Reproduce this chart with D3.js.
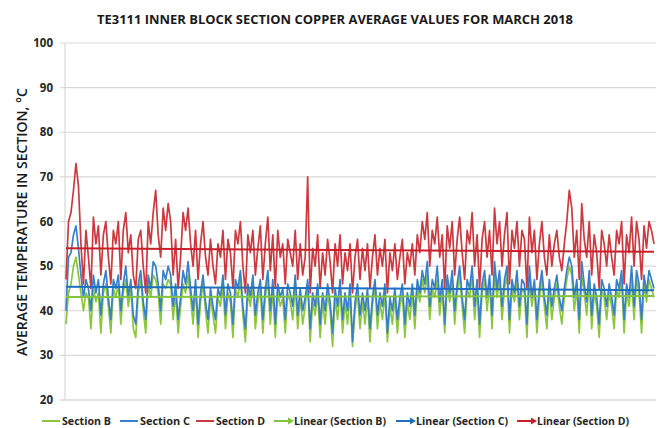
<!DOCTYPE html>
<html><head><meta charset="utf-8">
<script src="https://cdn.jsdelivr.net/npm/d3@7"></script>
<style>body{margin:0;background:#fff}svg{display:block}</style>
</head><body>
<svg id="c" width="664" height="428"></svg>
<script>
const title = "TE3111 INNER BLOCK SECTION COPPER AVERAGE VALUES FOR MARCH 2018";
const yLabel = "AVERAGE TEMPERATURE IN SECTION, °C";
const yTicks = [20,30,40,50,60,70,80,90,100];
const seriesNames = ["Section B","Section C","Section D"];
const trendNames = ["Linear (Section B)","Linear (Section C)","Linear (Section D)"];

const sectionB = [
37,44,46,50,52,48,44,40,44,43,36,45,42,44,35,44,46,41,35,45,
43,46,37,44,47,41,45,36,34,44,47,40,35,46,43,48,47,44,37,46,
45,47,46,38,44,35,41,46,44,48,43,37,45,34,42,46,40,35,43,39,
35,43,41,46,36,44,42,34,45,43,47,39,33,44,41,46,36,42,45,35,
43,47,37,45,34,44,41,43,35,44,42,38,46,36,43,37,41,46,33,42,
39,44,34,42,37,44,40,32,43,38,45,35,42,37,44,32,40,44,36,42,
37,43,33,41,46,36,42,38,44,33,41,37,43,35,41,44,34,42,38,44,
36,45,42,47,44,48,38,45,43,47,39,45,35,46,42,47,37,44,48,41,
35,45,43,48,38,45,34,44,47,40,46,36,48,43,47,38,45,48,35,45,
42,47,38,45,44,34,47,41,45,35,43,47,41,36,45,38,43,46,41,37,
43,47,50,48,40,45,35,48,44,39,47,36,44,41,34,45,43,38,44,41,
36,45,43,47,35,44,41,47,38,47,44,35,46,42,47,45,43];
const sectionC = [
40,52,53,57,59,54,48,43,47,45,40,48,44,47,39,46,49,43,38,47,
45,48,40,46,50,43,47,39,37,46,49,42,38,48,45,51,50,46,40,49,
47,50,48,41,46,38,43,49,46,51,45,40,47,37,44,48,42,38,45,41,
38,45,43,48,39,46,44,37,47,45,49,41,36,46,43,48,39,44,47,38,
45,49,40,47,37,46,43,45,38,46,44,41,48,39,45,40,43,47,36,44,
41,46,37,44,40,46,42,35,45,41,47,38,44,40,46,33,42,46,39,44,
40,45,36,43,47,39,44,41,46,35,43,40,45,38,43,46,37,44,41,46,
39,47,44,49,46,51,41,47,45,50,42,47,37,48,44,49,40,46,50,43,
38,47,45,50,41,47,37,46,49,43,48,39,51,45,49,41,47,50,38,47,
44,49,41,47,46,37,50,43,47,38,45,49,43,39,47,41,45,48,43,40,
45,49,52,50,43,47,38,51,46,42,49,39,46,43,37,47,45,41,46,43,
39,47,45,49,38,46,43,50,41,49,46,38,48,44,49,47,45];
const sectionD = [
47,60,62,67,73,68,55,46,58,52,45,61,55,59,48,57,60,52,46,58,
55,60,47,58,62,53,57,48,45,56,58,50,44,60,55,62,67,57,52,63,
58,64,60,48,56,45,52,62,58,63,55,50,58,47,55,60,52,48,56,50,
46,55,52,58,47,56,53,45,58,55,60,50,44,57,53,58,48,54,59,47,
55,61,49,57,45,58,52,55,46,56,53,50,58,47,55,48,52,70,44,54,
50,57,45,53,48,56,51,44,55,50,57,46,53,49,55,44,52,56,47,54,
49,55,45,52,57,48,54,50,56,44,53,49,55,47,52,56,46,53,50,55,
48,57,53,60,56,62,50,58,55,61,52,57,45,59,54,60,48,56,61,53,
47,58,55,62,50,57,45,56,60,52,58,48,63,55,60,50,57,62,46,58,
54,60,50,58,56,45,61,53,58,47,55,60,52,48,57,50,55,58,52,49,
55,60,67,63,52,58,47,64,56,52,60,48,57,53,45,58,55,50,57,52,
48,58,55,60,46,57,53,61,50,60,56,47,59,54,60,58,55];
// linear trend values at first and last point
const trendB = [43.1, 43.3];
const trendC = [45.4, 44.6];
const trendD = [54.0, 53.2];

const colors = ["#8cc63f","#3a80c8","#cc3a40"];
const trendColors = ["#82c341","#1f6fc0","#c8202a"];

const svg = d3.select("#c");
const pLeft = 65, pRight = 656, pTop = 43, pBottom = 400;
const n = sectionB.length;
const x = d3.scaleLinear().domain([0, n-1]).range([pLeft+1, pRight-2]);
const y = d3.scaleLinear().domain([20,100]).range([pBottom, pTop]);

// gridlines
svg.append("g").selectAll("line").data(yTicks).join("line")
  .attr("x1", pLeft-5).attr("x2", pRight).attr("y1", d=>y(d)).attr("y2", d=>y(d))
  .attr("stroke", d=> d===20 ? "#c8c8c8" : "#d9d9d9").attr("stroke-width", 1.2);
svg.append("line").attr("x1", pLeft).attr("x2", pLeft).attr("y1", pTop).attr("y2", pBottom)
  .attr("stroke","#d9d9d9").attr("stroke-width",1.2);

// y tick labels
svg.append("g").selectAll("text").data(yTicks).join("text")
  .attr("x", 53).attr("y", d=>y(d)+4).attr("text-anchor","end")
  .attr("font-family","'Open Sans', sans-serif").attr("font-weight","bold")
  .attr("font-size", 11.5).attr("fill","#262626").text(d=>d);

// title
svg.append("text").attr("x", 335).attr("y", 24).attr("text-anchor","middle")
  .attr("font-family","'Open Sans', sans-serif").attr("font-weight","bold")
  .attr("font-size", 13).attr("fill","#1a1a1a")
  .attr("textLength", 476).attr("lengthAdjust","spacingAndGlyphs").text(title);

// y label
svg.append("text").attr("transform","translate(27,222) rotate(-90)")
  .attr("text-anchor","middle").attr("font-family","'Open Sans', sans-serif")
  .attr("font-weight","600").attr("font-size", 14.5).attr("fill","#1a1a1a")
  .attr("textLength", 268).attr("lengthAdjust","spacingAndGlyphs").text(yLabel);

const line = d3.line().x((d,i)=>x(i)).y(d=>y(d));
[sectionB, sectionC, sectionD].forEach((s,k)=>{
  svg.append("path").datum(s).attr("d", line).attr("fill","none")
    .attr("stroke", colors[k]).attr("stroke-width", 1.7).attr("stroke-linejoin","round");
});
[trendB, trendC, trendD].forEach((t,k)=>{
  svg.append("line").attr("x1", x(0)).attr("x2", x(n-1))
    .attr("y1", y(t[0])).attr("y2", y(t[1]))
    .attr("stroke", trendColors[k]).attr("stroke-width", 2);
});

// legend
const legItems = [
  {name: seriesNames[0], c: colors[0], arrow:false, x: 42},
  {name: seriesNames[1], c: colors[1], arrow:false, x: 120},
  {name: seriesNames[2], c: colors[2], arrow:false, x: 196},
  {name: trendNames[0], c: trendColors[0], arrow:true, x: 274},
  {name: trendNames[1], c: trendColors[1], arrow:true, x: 396},
  {name: trendNames[2], c: trendColors[2], arrow:true, x: 517}
];
const widths = [49,50,49,92,92,92];
const ly = 421;
const lg = svg.append("g");
legItems.forEach((it,i)=>{
  lg.append("line").attr("x1", it.x).attr("x2", it.x+(it.arrow?15:18)).attr("y1", ly).attr("y2", ly)
    .attr("stroke", it.c).attr("stroke-width", 2);
  if (it.arrow) {
    lg.append("path").attr("d", `M${it.x+14},${ly-3.5}L${it.x+20},${ly}L${it.x+14},${ly+3.5}Z`).attr("fill", it.c);
  }
  lg.append("text").attr("x", it.x+20).attr("y", ly+4).attr("font-family","'Open Sans', sans-serif")
    .attr("font-weight","bold").attr("font-size", 11).attr("fill","#262626")
    .attr("textLength", widths[i]).attr("lengthAdjust","spacingAndGlyphs").text(it.name);
});
</script>
</body></html>
